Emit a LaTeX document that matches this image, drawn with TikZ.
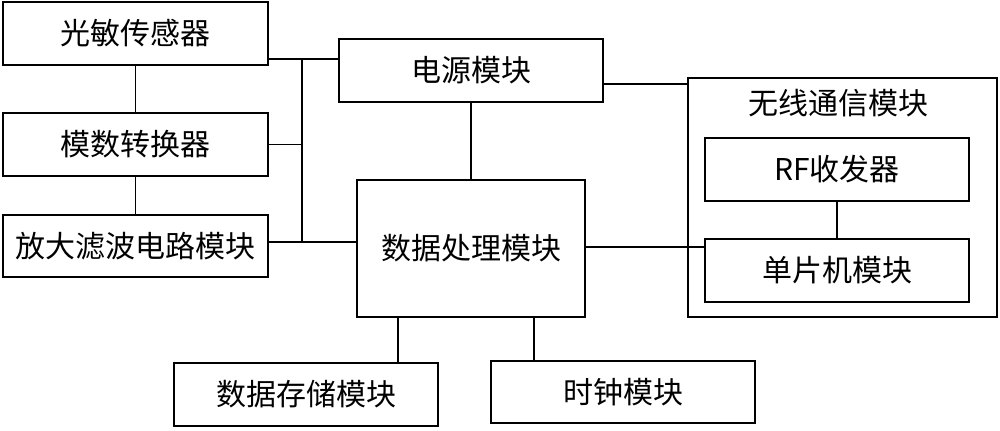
\documentclass[tikz,border=0pt]{standalone}
\usepackage{fontspec}
\setmainfont{Noto Sans CJK SC}
\usetikzlibrary{calc}

\tikzset{
  blk/.style={draw, line width=0.9pt, inner sep=0pt, font=\fontsize{15}{18}\selectfont},
  wire/.style={draw, line width=0.7pt}
}

\begin{document}
\begin{tikzpicture}[x=0.5pt, y=-0.5pt]
  \useasboundingbox (0,0) rectangle (1000,430);
  % left chain
  \node[blk, minimum width=132.5pt, minimum height=31.5pt] (sensor) at (135.5,33.5) {光敏传感器};
  \node[blk, minimum width=132.5pt, minimum height=31.5pt] (adc) at (135.5,144.5) {模数转换器};
  \node[blk, minimum width=132.5pt, minimum height=31pt] (amp) at (135.5,246) {放大滤波电路模块};
  % centre
  \node[blk, minimum width=132pt, minimum height=31.5pt] (power) at (471,70.5) {电源模块};
  \node[blk, minimum width=114pt, minimum height=68.5pt] (proc) at (471,248.5) {数据处理模块};
  \node[blk, minimum width=132pt, minimum height=31.5pt] (store) at (306,394.5) {数据存储模块};
  \node[blk, minimum width=132pt, minimum height=31pt] (clock) at (623,392) {时钟模块};
  % wireless group
  \draw[line width=0.9pt] (688,78) rectangle (997,317);
  \node[font=\fontsize{15}{18}\selectfont] (wltitle) at (838,103) {无线通信模块};
  \node[blk, minimum width=132pt, minimum height=31.5pt] (rf) at (837,169.5) {RF收发器};
  \node[blk, minimum width=132pt, minimum height=31.5pt] (mcu) at (837,270.5) {单片机模块};
  \coordinate (wlw) at (688,84);
  % bus
  \coordinate (bt) at (302,59);
  \coordinate (bb) at (302,242);
  \coordinate (st) at (398,0);
  \coordinate (ct) at (534,0);
  \path[wire] (sensor.south) -- (adc.north);
  \path[wire] (adc.south) -- (amp.north);
  \path[wire] (sensor.east |- bt) -- (power.west |- bt);
  \path[wire] (bt) -- (bb);
  \path[wire] (adc.east) -- (adc.east -| bt);
  \path[wire] (amp.east |- bb) -- (proc.west |- bb);
  \path[wire] (power.south) -- (proc.north);
  \path[wire] (power.east |- wlw) -- (wlw);
  \path[wire] (proc.east |- 0,247) -- (mcu.west |- 0,247);
  \path[wire] (rf.south) -- (mcu.north);
  \path[wire] (proc.south -| st) -- (store.north -| st);
  \path[wire] (proc.south -| ct) -- (clock.north -| ct);
\end{tikzpicture}
\end{document}
